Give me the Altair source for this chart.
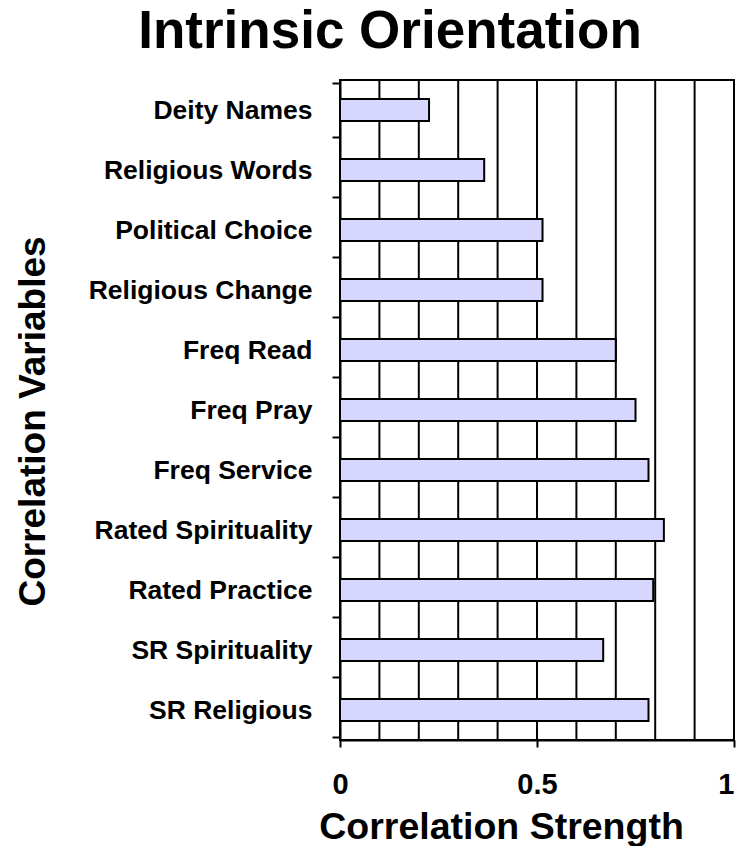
import altair as alt
import pandas as pd

categories = ["Deity Names", "Religious Words", "Political Choice", "Religious Change",
              "Freq Read", "Freq Pray", "Freq Service", "Rated Spirituality",
              "Rated Practice", "SR Spirituality", "SR Religious"]
values = [0.226, 0.366, 0.514, 0.514, 0.70, 0.750, 0.783, 0.822, 0.795, 0.668, 0.783]
grid_values = [0.1, 0.2, 0.3, 0.4, 0.5, 0.6, 0.7, 0.8, 0.9, 1.0]
x_tick_values = [0, 0.5, 1]

FONT = "Liberation Sans, Arial, Helvetica, sans-serif"

df = pd.DataFrame({"Variable": categories, "Correlation": values})
grid_df = pd.DataFrame({"g": grid_values})

x_scale = alt.Scale(domain=[0, 1], nice=False, zero=True)

x_axis = alt.Axis(
    title="Correlation Strength",
    values=x_tick_values,
    format="~g",
    grid=False,
    domain=True,
    domainColor="black",
    domainWidth=2,
    ticks=True,
    tickColor="black",
    tickWidth=2,
    tickSize=7,
    labelFont=FONT,
    labelFontSize=29,
    labelFontWeight="bold",
    labelColor="black",
    labelPadding=23,
    labelFlush=False,
    labelAlign=alt.expr("datum.value == 1 ? 'right' : 'center'"),
    titleFont=FONT,
    titleFontSize=37.5,
    titleFontWeight="bold",
    titleColor="black",
    titleX=161,
    titleY=98,
    titleAlign="center",
    titleBaseline="alphabetic",
)

grid = alt.Chart(grid_df).mark_rule(color="black", strokeWidth=2).encode(
    x=alt.X("g:Q", scale=x_scale, axis=x_axis, title="Correlation Strength")
)

bars = alt.Chart(df).mark_bar(
    fill="#D6D6FF", stroke="black", strokeWidth=2, size=22
).encode(
    x=alt.X("Correlation:Q", scale=x_scale, axis=x_axis, title="Correlation Strength"),
    y=alt.Y(
        "Variable:N",
        sort=categories,
        axis=alt.Axis(
            title="Correlation Variables",
            domain=True,
            domainColor="black",
            domainWidth=2,
            ticks=True,
            tickBand="extent",
            tickColor="black",
            tickWidth=2,
            tickSize=8,
            labelFont=FONT,
            labelFontSize=26.5,
            labelFontWeight="bold",
            labelColor="black",
            labelPadding=20,
            labelLimit=400,
            titleFont=FONT,
            titleFontSize=37,
            titleFontWeight="bold",
            titleColor="black",
            titleAngle=270,
            titleX=-307,
            titleY=341,
            titleAlign="center",
            titleBaseline="middle",
        ),
    ),
)

chart = alt.layer(grid, bars).properties(
    width=394,
    height=660,
    title=alt.TitleParams(
        text="Intrinsic Orientation",
        font=FONT,
        fontSize=53,
        fontWeight="bold",
        color="black",
        anchor="middle",
        frame="group",
        dx=-147,
        baseline="alphabetic",
        offset=-34,
    ),
    autosize=alt.AutoSizeParams(type="none"),
    padding={"left": 332, "top": 72, "right": 2, "bottom": 106},
).configure(
    background="white",
    view=alt.ViewConfig(stroke="black", strokeWidth=2),
)

chart.save("out.html", embed_options={"renderer": "svg", "actions": False})
